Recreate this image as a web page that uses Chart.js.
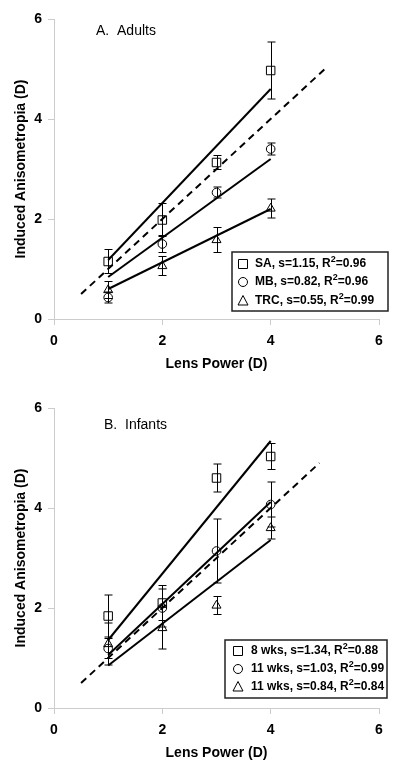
<!DOCTYPE html>
<html>
<head>
<meta charset="utf-8">
<script src="https://cdn.jsdelivr.net/npm/chart.js@4.4.0/dist/chart.umd.min.js"></script>
<style>
  html, body { margin: 0; padding: 0; background: #fff; overflow: hidden; }
  .panel { position: absolute; left: 0; width: 400px; height: 380px; }
</style>
</head>
<body>
<div class="panel" style="top:0"><canvas id="adults" width="400" height="380"></canvas></div>
<div class="panel" style="top:389px"><canvas id="infants" width="400" height="380"></canvas></div>
<script>
// lens powers tested
const lensPower = [1, 2, 3, 4];
const axisTicks = [0, 2, 4, 6];

// A. Adults
const saMean = [1.15, 1.98, 3.13, 4.97];
const saErr = [0.24, 0.33, 0.14, 0.57];
const mbMean = [0.43, 1.50, 2.53, 3.40];
const mbErr = [0.11, 0.17, 0.11, 0.12];
const trcMean = [0.58, 1.06, 1.58, 2.21];
const trcErr = [0.17, 0.19, 0.25, 0.19];
// fitted lines, read at lens power 1 and 4
const fitX = [1, 4];
const saFit = [1.18, 4.60];
const mbFit = [0.84, 3.20];
const trcFit = [0.60, 2.20];

// B. Infants
const wk8Mean = [1.84, 2.10, 4.60, 5.03];
const wk8Err = [0.42, 0.35, 0.28, 0.26];
const wk11Mean = [1.19, 2.00, 3.14, 4.07];
const wk11Err = [0.20, 0.38, 0.64, 0.45];
const wk11bMean = [1.28, 1.60, 2.05, 3.60];
const wk11bErr = [0.42, 0.42, 0.18, 0.22];
const wk8Fit = [1.36, 5.34];
const wk11Fit = [1.06, 4.12];
const wk11bFit = [0.85, 3.36];

// dashed 1:1 line
const unityA = [0.5, 5.0];
const unityB = [0.5, 4.9];

// legend text
const namesA = ['SA', 'MB', 'TRC'];
const slopesA = ['1.15', '0.82', '0.55'];
const r2A = ['0.96', '0.96', '0.99'];
const namesB = ['8 wks', '11 wks', '11 wks'];
const slopesB = ['1.34', '1.03', '0.84'];
const r2B = ['0.88', '0.99', '0.84'];

const pts = (xs, ys) => xs.map((x, i) => ({ x: x, y: ys[i] }));

function markers(ys, err, style, r) {
  return {
    data: pts(lensPower, ys), err: err,
    pointStyle: style, pointRadius: r, pointHoverRadius: r,
    borderColor: '#000', backgroundColor: 'rgba(0,0,0,0)', pointBorderWidth: 1,
    showLine: false, order: 1
  };
}
function line(xs, ys, dashed) {
  return {
    data: pts(xs, ys), showLine: true, pointRadius: 0,
    borderColor: '#000', borderWidth: 2, borderDash: dashed ? [7, 5] : [],
    fill: false, order: 2
  };
}

// error bars
const errorBars = {
  id: 'errorBars',
  afterDatasetsDraw(chart) {
    const ctx = chart.ctx, xs = chart.scales.x, ys = chart.scales.y;
    ctx.save();
    ctx.strokeStyle = '#000';
    ctx.lineWidth = 1;
    chart.data.datasets.forEach(ds => {
      if (!ds.err) return;
      ds.data.forEach((p, j) => {
        const px = Math.round(xs.getPixelForValue(p.x)) + 0.5;
        const top = ys.getPixelForValue(p.y + ds.err[j]);
        const bot = ys.getPixelForValue(p.y - ds.err[j]);
        ctx.beginPath();
        ctx.moveTo(px, top); ctx.lineTo(px, bot);
        ctx.moveTo(px - 4, top); ctx.lineTo(px + 4, top);
        ctx.moveTo(px - 4, bot); ctx.lineTo(px + 4, bot);
        ctx.stroke();
      });
    });
    ctx.restore();
  }
};

function drawMarker(ctx, style, x, y) {
  ctx.beginPath();
  if (style === 'rect') ctx.rect(x - 4.5, y - 4.5, 9, 9);
  else if (style === 'circle') ctx.arc(x, y, 4.5, 0, Math.PI * 2);
  else { ctx.moveTo(x, y - 5.5); ctx.lineTo(x + 5, y + 4); ctx.lineTo(x - 5, y + 4); ctx.closePath(); }
  ctx.stroke();
}

// panel label + boxed legend
const annotations = {
  id: 'annotations',
  afterDraw(chart, args, opts) {
    const ctx = chart.ctx;
    ctx.save();
    ctx.fillStyle = '#000';
    ctx.textBaseline = 'middle';
    ctx.font = '14px "Liberation Sans", Arial, sans-serif';
    ctx.fillText(opts.label, opts.labelX, opts.labelY);

    const b = opts.box;
    ctx.strokeStyle = '#222';
    ctx.lineWidth = 1.5;
    ctx.strokeRect(b[0], b[1], b[2] - b[0], b[3] - b[1]);

    const styles = ['rect', 'circle', 'triangle'];
    ctx.lineWidth = 1;
    ctx.strokeStyle = '#000';
    opts.names.forEach((n, i) => {
      const y = opts.rowY[i];
      drawMarker(ctx, styles[i], opts.markerX, y);
      let x = opts.textX;
      ctx.font = 'bold 12px "Liberation Sans", Arial, sans-serif';
      const head = n + ', s=' + opts.slopes[i] + ', R';
      ctx.fillText(head, x, y);
      x += ctx.measureText(head).width;
      ctx.font = 'bold 9px "Liberation Sans", Arial, sans-serif';
      ctx.fillText('2', x, y - 4);
      x += ctx.measureText('2').width;
      ctx.font = 'bold 12px "Liberation Sans", Arial, sans-serif';
      ctx.fillText('=' + opts.r2[i], x, y);
    });
    ctx.restore();
  }
};

const tickFont = { family: '"Liberation Sans", Arial, sans-serif', size: 14, weight: 'bold' };

function axis(title, isX) {
  return {
    type: 'linear', min: 0, max: 6,
    afterBuildTicks: s => { s.ticks = axisTicks.map(v => ({ value: v })); },
    afterFit: s => { if (isX) s.height = 61; else s.width = 54; },
    ticks: { color: '#000', font: tickFont, padding: isX ? 8 : 6 },
    grid: { drawOnChartArea: false, drawTicks: true, tickLength: 6, color: '#ccc' },
    border: { color: '#ccc', width: 1 },
    title: {
      display: true, text: title, color: '#000', font: tickFont,
      padding: isX ? { top: 4, bottom: 7 } : { top: 13, bottom: 0 }
    }
  };
}

function makeChart(id, datasets, ann) {
  return new Chart(document.getElementById(id), {
    type: 'scatter',
    data: { datasets: datasets },
    options: {
      responsive: false, animation: false,
      layout: { padding: { top: 19, right: 21, bottom: 0, left: 0 } },
      plugins: { legend: { display: false }, tooltip: { enabled: false }, annotations: ann },
      scales: {
        x: axis('Lens Power (D)', true),
        y: axis('Induced Anisometropia (D)', false)
      }
    },
    plugins: [errorBars, annotations]
  });
}

makeChart('adults', [
  markers(saMean, saErr, 'rect', 6),
  markers(mbMean, mbErr, 'circle', 4.3),
  markers(trcMean, trcErr, 'triangle', 5.2),
  line(fitX, saFit), line(fitX, mbFit), line(fitX, trcFit),
  line(unityA, unityA, true)
], {
  label: 'A.  Adults', labelX: 96, labelY: 31,
  box: [232, 252, 388, 311], markerX: 243, textX: 255, rowY: [264, 282, 301],
  names: namesA, slopes: slopesA, r2: r2A
});

makeChart('infants', [
  markers(wk8Mean, wk8Err, 'rect', 6),
  markers(wk11Mean, wk11Err, 'circle', 4.3),
  markers(wk11bMean, wk11bErr, 'triangle', 5.2),
  line(fitX, wk8Fit), line(fitX, wk11Fit), line(fitX, wk11bFit),
  line(unityB, unityB, true)
], {
  label: 'B.  Infants', labelX: 104, labelY: 36,
  box: [225, 251, 387, 309], markerX: 238, textX: 251, rowY: [262, 280, 298],
  names: namesB, slopes: slopesB, r2: r2B
});
</script>
</body>
</html>
